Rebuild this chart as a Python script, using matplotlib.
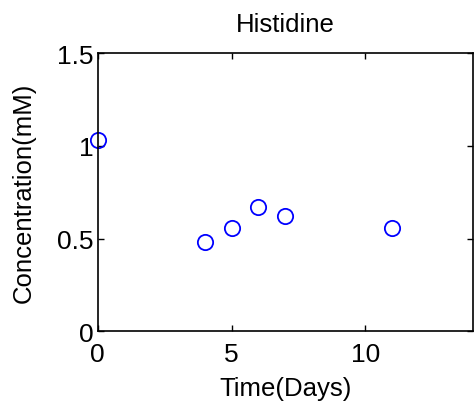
import matplotlib
matplotlib.use("Agg")
import matplotlib.pyplot as plt

plt.rcParams['font.family'] = ['Liberation Sans', 'DejaVu Sans']

# --- data ---
days = [0, 4, 5, 6, 7, 11]
conc = [1.03, 0.48, 0.555, 0.67, 0.62, 0.555]

fig = plt.figure(figsize=(4.74, 4.10), dpi=100)
ax = fig.add_axes([0.206, 0.1895, 0.791, 0.6785])

ax.plot(days, conc, 'o', mfc='none', mec='#0000ff', ms=11, mew=1.3, clip_on=False)

ax.set_xlim(0, 14)
ax.set_ylim(0, 1.5)
ax.set_xticks([0, 5, 10])
ax.set_yticks([0, 0.5, 1, 1.5])
ax.set_yticklabels(['0', '0.5', '1', '1.5'])
ax.tick_params(direction='in', length=4, width=1, labelsize=19, top=True, right=True)
ax.tick_params(axis='x', pad=8)
ax.tick_params(axis='y', pad=3)
for s in ax.spines.values():
    s.set_linewidth(1.2)

ax.set_xlabel("Time(Days)", fontsize=18.5, labelpad=7)
ax.set_ylabel("Concentration(mM)", fontsize=18.5, labelpad=15)
ax.set_title("Histidine", fontsize=18.5, pad=16)

fig.savefig("out.png", dpi=100)
